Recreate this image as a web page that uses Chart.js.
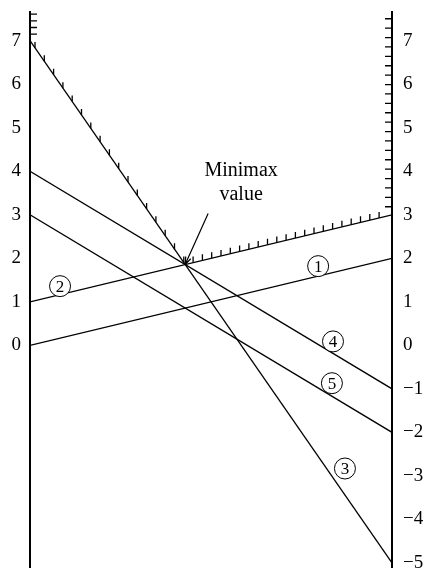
<!DOCTYPE html>
<html>
<head>
<meta charset="utf-8">
<script src="https://cdn.jsdelivr.net/npm/chart.js@4"></script>
<style>
  html, body { margin: 0; padding: 0; background: #fff; overflow: hidden; }
  #wrap { width: 426px; height: 601px; margin-top: -10px; }
</style>
</head>
<body>
<div id="wrap"><canvas id="game"></canvas></div>
<script>
// strategies: value at left axis (x=0) and right axis (x=1)
const lineNames = ['1', '2', '3', '4', '5'];
const leftValues = [0, 1, 7, 4, 3];
const rightValues = [2, 3, -5, -1, -2];
const axisX = [0, 1];
const leftTicks = [0, 1, 2, 3, 4, 5, 6, 7];
const rightTicks = [-5, -4, -3, -2, -1, 0, 1, 2, 3, 4, 5, 6, 7];

// where the circled numbers sit (data coords)
const markX = [0.796, 0.083, 0.87, 0.837, 0.834];
const markY = [1.82, 1.36, -2.83, 0.09, -0.87];

const serif = '"Liberation Serif", "Times New Roman", serif';

function fmt(v) {
  return v < 0 ? '\u2212' + Math.abs(v) : String(v);
}

const datasets = lineNames.map((n, i) => ({
  label: n,
  data: axisX.map((x, k) => ({ x: x, y: k === 0 ? leftValues[i] : rightValues[i] })),
  borderColor: '#000',
  borderWidth: 1.3,
  pointRadius: 0,
  fill: false,
  tension: 0
}));

// upper envelope value at x
function envelope(x) {
  let m = -Infinity;
  for (let i = 0; i < leftValues.length; i++) {
    m = Math.max(m, leftValues[i] + (rightValues[i] - leftValues[i]) * x);
  }
  return m;
}

const extras = {
  id: 'extras',
  afterDatasetsDraw(chart) {
    const ctx = chart.ctx;
    const xs = chart.scales.x, ys = chart.scales.y;
    const area = chart.chartArea;
    ctx.save();
    ctx.strokeStyle = '#000';
    ctx.fillStyle = '#000';
    ctx.lineWidth = 1.3;

    // hatching on the upper envelope
    ctx.beginPath();
    for (let px = area.left + 5; px < area.right - 5; px += 9.3) {
      const v = envelope(xs.getValueForPixel(px));
      const py = ys.getPixelForValue(v);
      ctx.moveTo(px, py);
      ctx.lineTo(px, py - 6);
    }
    // right axis hatching above 3
    for (let py = ys.getPixelForValue(rightValues[1]) - 8; py > area.top; py -= 9.4) {
      ctx.moveTo(area.right, py);
      ctx.lineTo(area.right - 7, py);
    }
    // left axis hatching above 7
    for (let py = ys.getPixelForValue(leftValues[2]) - 6.5; py > area.top; py -= 6.7) {
      ctx.moveTo(area.left, py);
      ctx.lineTo(area.left + 7, py);
    }
    ctx.stroke();

    // circled line numbers
    ctx.font = '17px ' + serif;
    ctx.textAlign = 'center';
    ctx.textBaseline = 'middle';
    ctx.lineWidth = 1;
    markX.forEach((mx, i) => {
      const cx = xs.getPixelForValue(mx), cy = ys.getPixelForValue(markY[i]);
      ctx.fillStyle = '#fff';
      ctx.beginPath();
      ctx.arc(cx, cy, 10.5, 0, Math.PI * 2);
      ctx.fill();
      ctx.stroke();
      ctx.fillStyle = '#000';
      ctx.fillText(lineNames[i], cx, cy + 1);
    });

    // minimax annotation
    const tStar = (leftValues[2] - leftValues[1]) / ((leftValues[2] - rightValues[2]) + (rightValues[1] - leftValues[1]));
    const mxp = xs.getPixelForValue(tStar), myp = ys.getPixelForValue(envelope(tStar));
    ctx.font = '20px ' + serif;
    ctx.fillText('Minimax', mxp + 56, myp - 94);
    ctx.fillText('value', mxp + 56, myp - 70);
    const sx = mxp + 23, sy = myp - 51;
    ctx.lineWidth = 1.2;
    ctx.beginPath();
    ctx.moveTo(sx, sy);
    ctx.lineTo(mxp, myp);
    const ang = Math.atan2(myp - sy, mxp - sx);
    ctx.moveTo(mxp, myp);
    ctx.lineTo(mxp - 8 * Math.cos(ang - 0.35), myp - 8 * Math.sin(ang - 0.35));
    ctx.moveTo(mxp, myp);
    ctx.lineTo(mxp - 8 * Math.cos(ang + 0.35), myp - 8 * Math.sin(ang + 0.35));
    ctx.stroke();
    ctx.restore();
  }
};

function keepTicks(list) {
  return function(scale) {
    scale.ticks = list.map(v => ({ value: v }));
  };
}

new Chart(document.getElementById('game'), {
  type: 'line',
  data: { datasets: datasets },
  options: {
    responsive: true,
    maintainAspectRatio: false,
    animation: false,
    layout: { padding: { top: 2, bottom: 0, left: 0, right: 0 } },
    plugins: { legend: { display: false }, tooltip: { enabled: false } },
    scales: {
      x: { type: 'linear', min: 0, max: 1, display: false },
      y: {
        position: 'left',
        min: -5.13, max: 7.65,
        afterBuildTicks: keepTicks(leftTicks),
        afterFit: s => { s.width = 30; },
        grid: { display: false, drawTicks: false },
        border: { display: true, color: '#000', width: 2 },
        ticks: { color: '#000', padding: 9, font: { family: serif, size: 19 }, callback: v => fmt(v) }
      },
      y2: {
        position: 'right',
        min: -5.13, max: 7.65,
        afterBuildTicks: keepTicks(rightTicks),
        afterFit: s => { s.width = 34; },
        grid: { display: false, drawTicks: false },
        border: { display: true, color: '#000', width: 2 },
        ticks: { color: '#000', padding: 11, font: { family: serif, size: 19 }, callback: v => fmt(v) }
      }
    }
  },
  plugins: [extras]
});
</script>
</body>
</html>
